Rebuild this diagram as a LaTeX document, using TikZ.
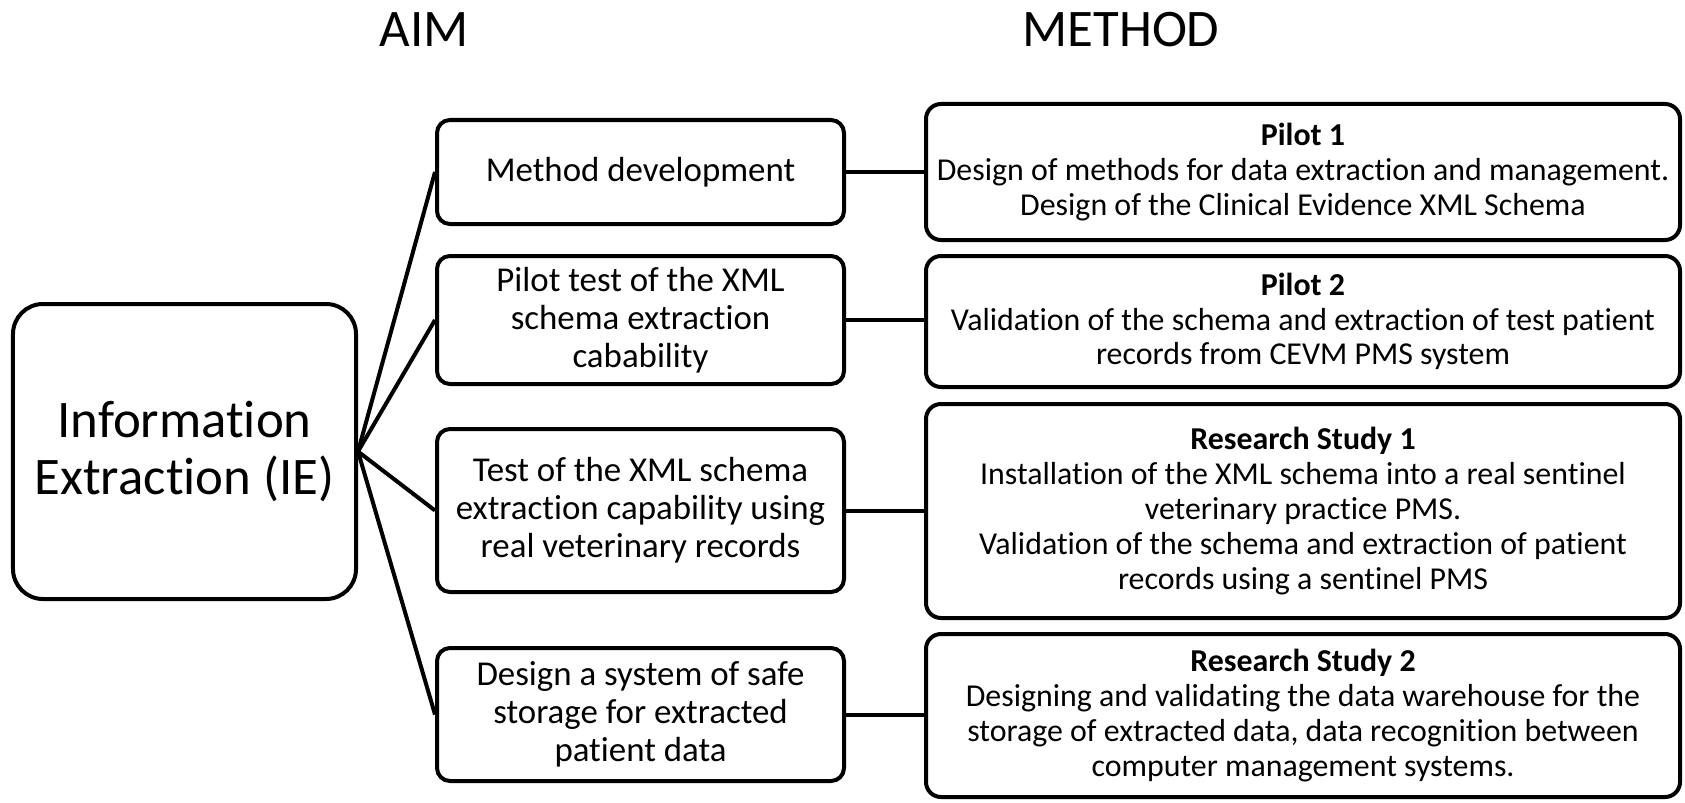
\documentclass[tikz,border=0pt]{standalone}
\usepackage{fontspec}
\setmainfont{Carlito}[RawFeature={-liga;-clig;-dlig}]
\begin{document}
\begin{tikzpicture}[x=1bp,y=-1bp,
  box/.style={draw=black,line width=4bp,fill=white,inner sep=0pt,align=center},
  bigbox/.style={box,rounded corners=30bp,minimum width=343bp,minimum height=295bp,font=\fontsize{53}{57}\selectfont},
  aimbox/.style={box,rounded corners=13bp,minimum width=407bp,font=\fontsize{35}{38}\selectfont},
  methbox/.style={box,rounded corners=15bp,minimum width=754bp,font=\fontsize{32}{35}\selectfont},
  ttl/.style={inner sep=0pt,anchor=base,font=\fontsize{53}{58}\selectfont},
  link/.style={line width=4bp}]
\useasboundingbox (0,0) rectangle (1685,803);
\node[ttl] (taim) at (424,47) {AIM};
\node[ttl] (tmeth) at (1121,47) {METHOD};
\node[bigbox] (ie) at (184.5,451.5) {Information\\Extraction (IE)};
\node[aimbox,minimum height=104bp] (a1) at (640.5,172) {Method development};
\node[aimbox,minimum height=128bp] (a2) at (640.5,320) {Pilot test of the XML\\schema extraction\\cabability};
\node[aimbox,minimum height=163bp] (a3) at (640.5,510.5) {Test of the XML schema\\extraction capability using\\real veterinary records};
\node[aimbox,minimum height=133bp] (a4) at (640.5,714.5) {Design a system of safe\\storage for extracted\\patient data};
\node[methbox,minimum height=136bp] (m1) at (1303,172) {\textbf{Pilot 1}\\Design of methods for data extraction and management.\\Design of the Clinical Evidence XML Schema};
\node[methbox,minimum height=131bp] (m2) at (1303,321.5) {\textbf{Pilot 2}\\Validation of the schema and extraction of test patient\\records from CEVM PMS system};
\node[methbox,minimum height=214bp] (m3) at (1303,511) {\textbf{Research Study 1}\\Installation of the XML schema into a real sentinel\\veterinary practice PMS.\\Validation of the schema and extraction of patient\\records using a sentinel PMS};
\node[methbox,minimum height=163bp] (m4) at (1303,715.5) {\textbf{Research Study 2}\\Designing and validating the data warehouse for the\\storage of extracted data, data recognition between\\computer management systems.};
\foreach \a in {a1,a2,a3,a4} \draw[link] (ie.east) -- (\a.west);
\draw[link] (a1.east) -- (m1.west |- a1.east);
\draw[link] (a2.east) -- (m2.west |- a2.east);
\draw[link] (a3.east) -- (m3.west |- a3.east);
\draw[link] (a4.east) -- (m4.west |- a4.east);
\end{tikzpicture}
\end{document}
